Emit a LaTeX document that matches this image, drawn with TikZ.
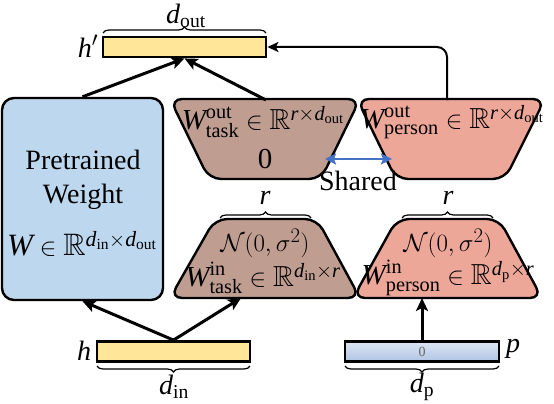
\documentclass[tikz,border=0pt]{standalone}
\usepackage{amsmath}
\usepackage{amssymb}
\usepackage{fontspec}
\setmainfont{Liberation Serif}
\usetikzlibrary{arrows.meta,decorations.pathreplacing}
\newcommand{\mi}[1]{\textit{#1}}
\newcommand{\mr}[1]{\textup{#1}}
\definecolor{baryellow}{HTML}{FFE699}
\definecolor{pwblue}{HTML}{BDD7EE}
\definecolor{taskbrown}{HTML}{BF9D90}
\definecolor{personsalmon}{HTML}{EDA799}
\definecolor{pblueA}{HTML}{DCE6F4}
\definecolor{pblueB}{HTML}{B0C4E4}
\definecolor{sharedblue}{HTML}{4472C4}
\begin{document}
\begin{tikzpicture}[x=1pt,y=-1pt,
  txt/.style={font=\fontsize{28}{32}\selectfont, inner sep=0pt},
  mtxt/.style={font=\fontsize{29}{33}\selectfont, inner sep=0pt},
  bigtxt/.style={font=\fontsize{31}{35}\selectfont, inner sep=0pt},
  box/.style={draw=black, line width=2.4pt, rounded corners=12pt},
  barbox/.style={draw=black, line width=2.8pt, inner sep=0pt},
  arr/.style={line width=3pt, -{Stealth[length=13pt,width=12pt,inset=3pt]}},
  thinarr/.style={line width=2pt, rounded corners=10pt, -{Stealth[length=11pt,width=10pt,inset=2.5pt]}},
  brc/.style={decorate, decoration={brace, amplitude=6pt}, line width=1.2pt}
]
\useasboundingbox (0,0) rectangle (554,404);

% bars
\node[barbox, fill=baryellow, minimum width=163pt, minimum height=20pt] (hp) at (184.5,47) {};
\node[barbox, fill=baryellow, minimum width=153pt, minimum height=20pt] (h) at (173.5,351.5) {};
\node[barbox, top color=pblueA, bottom color=pblueB, draw=black, minimum width=154pt, minimum height=20pt] (p) at (422,351.5) {\fontsize{14}{14}\selectfont\color{gray!80!black}0};

% bar labels
\node[txt] (hplab) at (88,46) {$\mi{h}'$};
\node[txt] (hlab) at (84,351) {$\mi{h}$};
\node[txt] (plab) at (513,349) {$\mi{p}$};

% braces
\draw[brc] (103,33) -- (266,33);
\node[txt] (dout) at (186,16) {$\mi{d}_{\mr{out}}$};
\draw[brc] (250,366) -- (97,366);
\node[txt] (din) at (174,387) {$\mi{d}_{\mr{in}}$};
\draw[brc] (499,366) -- (345,366);
\node[txt] (dp) at (422,387) {$\mi{d}_{\mr{p}}$};

% pretrained weight
\node[box, fill=pwblue, minimum width=161pt, minimum height=202pt, inner sep=0pt] (pw) at (82.5,199) {};
\node[txt] (pwt1) at (83,160) {Pretrained};
\node[txt] (pwt2) at (83,197) {Weight};
\node[bigtxt] (pwt3) at (82,244) {$\mi{W}\in\mathbb{R}^{\mi{d}_{\mr{in}}\times \mi{d}_{\mr{out}}}$};

% task out
\draw[box, fill=taskbrown] (170,99) -- (360,99) -- (321,179) -- (209,179) -- cycle;
\node[mtxt] (tout1) at (263,122) {$\mi{W}_{\mr{task}}^{\mr{out}}\in\mathbb{R}^{\mi{r}\times \mi{d}_{\mr{out}}}$};
\node[mtxt] (tout2) at (265,159) {0};
% person out
\draw[box, fill=personsalmon] (357,99) -- (545,99) -- (505,179) -- (396,179) -- cycle;
\node[mtxt] (pout1) at (452,122) {$\mi{W}_{\mr{person}}^{\mr{out}}\in\mathbb{R}^{\mi{r}\times \mi{d}_{\mr{out}}}$};

% task in
\draw[box, fill=taskbrown] (215,219) -- (317,219) -- (360,298) -- (170,298) -- cycle;
\draw[brc] (220,218) -- (311,218);
\node[txt] (rt) at (265,198) {$\mi{r}$};
\node[mtxt] (tin1) at (265,243) {$\mathcal{N}(0,\sigma^2)$};
\node[mtxt] (tin2) at (263,278) {$\mi{W}_{\mr{task}}^{\mr{in}}\in\mathbb{R}^{\mi{d}_{\mr{in}}\times \mi{r}}$};
% person in
\draw[box, fill=personsalmon] (397,219) -- (499,219) -- (542,298) -- (353,298) -- cycle;
\draw[brc] (402,218) -- (493,218);
\node[txt] (rp) at (448,198) {$\mi{r}$};
\node[mtxt] (pin1) at (448,243) {$\mathcal{N}(0,\sigma^2)$};
\node[mtxt] (pin2) at (448,278) {$\mi{W}_{\mr{person}}^{\mr{in}}\in\mathbb{R}^{\mi{d}_{\mr{p}}\times \mi{r}}$};

% coordinates
\coordinate (toutTop) at (266,100);
\coordinate (poutTop) at (447,100);
\coordinate (tinBot) at (241,298);
\coordinate (pinBot) at (422,298);
\coordinate (shL) at (325,159);
\coordinate (shR) at (392,159);

% connectors
\draw[arr] (pw.north) -- (hp.south);
\draw[arr] (toutTop) -- (hp.south);
\draw[thinarr] (poutTop) |- (hp.east);
\draw[arr] (h.north) -- (pw.south);
\draw[arr] (h.north) -- (tinBot);
\draw[arr] (p.north) -- (pinBot);
\draw[line width=2.6pt, sharedblue, {Stealth[length=11pt,width=11pt,inset=2pt]}-{Stealth[length=11pt,width=11pt,inset=2pt]}] (shL) -- (shR);
\node[txt] (shared) at (358,181) {Shared};
\end{tikzpicture}
\end{document}
